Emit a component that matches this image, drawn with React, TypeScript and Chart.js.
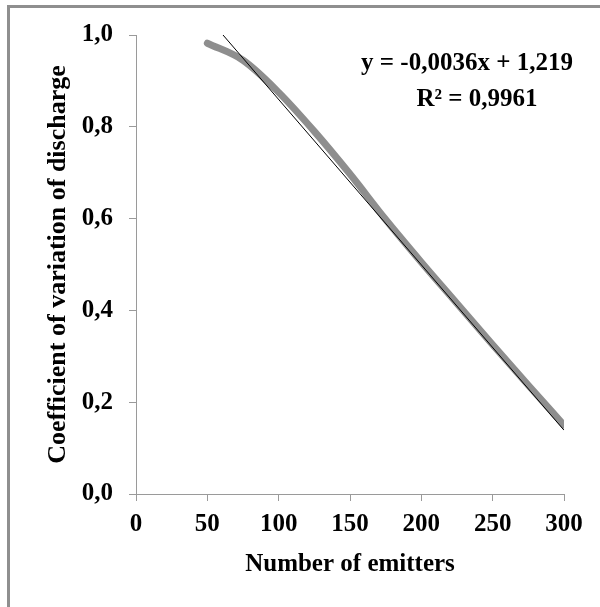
import React, { useEffect, useRef } from "react";
import { Chart, registerables } from "chart.js";

Chart.register(...registerables);

const emitters = [50, 75, 100, 125, 150, 175, 200, 225, 250, 275, 300];
const cvDischarge = [0.982, 0.945, 0.875, 0.79, 0.697, 0.598, 0.505, 0.415, 0.325, 0.237, 0.15];
const trendX = [61, 300];
const trendY = [1.0, 0.139];
const xTicks = [0, 50, 100, 150, 200, 250, 300];
const yTicks = [0, 0.2, 0.4, 0.6, 0.8, 1.0];
const equationLines = ["y = -0,0036x + 1,219", "R² = 0,9961"];
const xTitle = "Number of emitters";
const yTitle = "Coefficient of variation of discharge";

const FAMILY = "'Liberation Serif', 'Times New Roman', serif";
const AXIS_GRAY = "#9a9a9a";

export default function App() {
  const ref = useRef<HTMLCanvasElement | null>(null);

  useEffect(() => {
    if (!ref.current) return;
    const equationPlugin = {
      id: "equation",
      afterDraw(chart: any) {
        const ctx = chart.ctx;
        const area = chart.chartArea;
        ctx.save();
        ctx.font = `bold 25px ${FAMILY}`;
        ctx.fillStyle = "#000";
        ctx.textAlign = "center";
        ctx.textBaseline = "middle";
        ctx.fillText(equationLines[0], area.right - 97, area.top + 29);
        ctx.fillText(equationLines[1], area.right - 87, area.top + 65);
        ctx.restore();
      },
    };

    const chart = new Chart(ref.current, {
      type: "line",
      data: {
        datasets: [
          {
            label: "Linear trend",
            data: trendX.map((x, i) => ({ x, y: trendY[i] })),
            borderColor: "#000",
            borderWidth: 1,
            pointRadius: 0,
            tension: 0,
          },
          {
            label: "CV",
            data: emitters.map((x, i) => ({ x, y: cvDischarge[i] })),
            borderColor: "#8e8e8e",
            borderWidth: 7,
            pointRadius: 0,
            cubicInterpolationMode: "monotone",
            borderCapStyle: "round",
          },
        ],
      },
      options: {
        responsive: false,
        animation: false,
        devicePixelRatio: 1,
        layout: { padding: { top: 35, right: 36, left: 0, bottom: 0 } },
        plugins: { legend: { display: false }, tooltip: { enabled: false } },
        scales: {
          x: {
            type: "linear",
            min: 0,
            max: 300,
            afterBuildTicks: (s: any) => {
              s.ticks = xTicks.map((v) => ({ value: v }));
            },
            afterFit: (s: any) => {
              s.height = 113;
            },
            ticks: {
              color: "#000",
              font: { family: FAMILY, size: 25, weight: "bold" },
              padding: 9,
              maxRotation: 0,
            },
            grid: { drawOnChartArea: false, tickLength: 7, color: AXIS_GRAY },
            border: { color: AXIS_GRAY, width: 1 },
            title: {
              display: true,
              text: xTitle,
              color: "#000",
              font: { family: FAMILY, size: 25, weight: "bold" },
              padding: { top: 0, bottom: 27 },
            },
          },
          y: {
            type: "linear",
            min: 0,
            max: 1,
            afterBuildTicks: (s: any) => {
              s.ticks = yTicks.map((v) => ({ value: v }));
            },
            afterFit: (s: any) => {
              s.width = 136;
            },
            ticks: {
              color: "#000",
              font: { family: FAMILY, size: 25, weight: "bold" },
              padding: 16,
              callback: (v: any) => Number(v).toFixed(1).replace(".", ","),
            },
            grid: { drawOnChartArea: false, tickLength: 7, color: AXIS_GRAY },
            border: { color: AXIS_GRAY, width: 1 },
            title: {
              display: true,
              text: yTitle,
              color: "#000",
              font: { family: FAMILY, size: 26, weight: "bold" },
              padding: { top: 43, bottom: 0 },
            },
          },
        },
      },
      plugins: [equationPlugin],
    } as any);
    return () => chart.destroy();
  }, []);

  return (
    <div style={{ position: "absolute", left: 0, top: 0, width: 600, height: 607, background: "#fff", overflow: "hidden" }}>
      <canvas ref={ref} width={600} height={607} style={{ display: "block" }} />
      <div
        style={{
          position: "absolute",
          left: 7,
          top: 5,
          width: 593,
          height: 602,
          boxSizing: "border-box",
          borderLeft: "3px solid #8f8f8f",
          borderTop: "3px solid #8f8f8f",
          pointerEvents: "none",
        }}
      />
    </div>
  );
}
